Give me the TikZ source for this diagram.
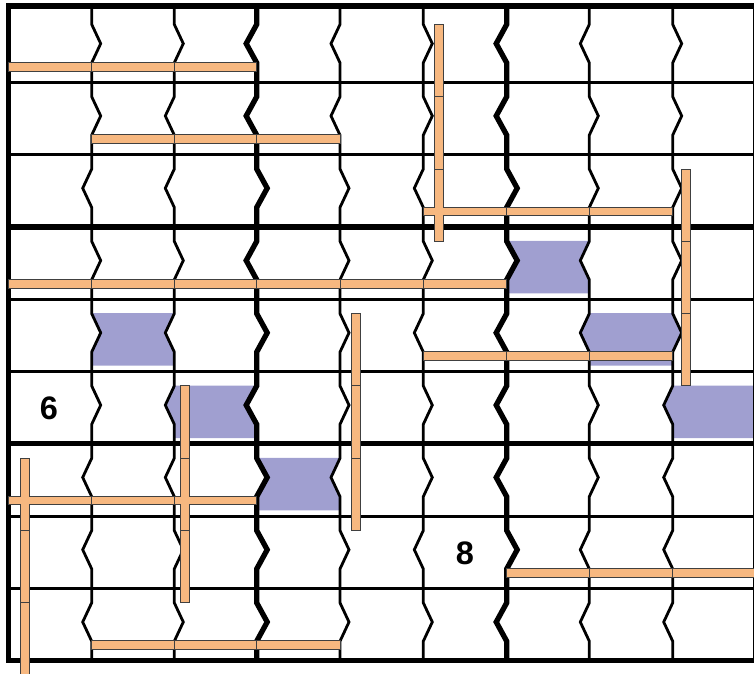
\documentclass[tikz,border=0pt]{standalone}
\usepackage{fontspec}
\setmainfont{Liberation Sans}
\definecolor{barfill}{HTML}{F7B880}
\definecolor{barline}{HTML}{404040}
\definecolor{cellfill}{HTML}{A09FD0}
\begin{document}
\begin{tikzpicture}[x=1pt,y=-1pt,
  barseg/.style={fill=barfill, draw=barline, line width=0.9pt},
  barpatch/.style={fill=barfill},
  shadecell/.style={fill=cellfill},
  gridline/.style={line width=2.8pt},
  boxline/.style={line width=5.3pt},
  digit/.style={font=\fontsize{32.5}{33}\selectfont\bfseries, inner sep=0pt}]
\useasboundingbox (0,0) rectangle (754,673);
\def\colx{{8.3,91.7,174.3,256.7,340,423.3,506.7,589.3,672.7,756}}
% shaded cells
\foreach \r/\xl/\xr/\dl/\dr in {3/506.7/589.3/10.5/-9, 4/91.7/174.3/9/-9, 4/589.3/672.7/-9/9, 5/174.3/256.7/-9/-10.5, 5/672.7/760/-9/0, 6/256.7/340/10.5/-9}{
  \pgfmathsetmacro\t{10+72.3*\r}
  \fill[shadecell] (\xl,{\t+14}) -- ({\xl+\dl},{\t+33.6}) -- (\xl,{\t+52.8}) -- (\xl,{\t+66.5})
     -- (\xr,{\t+66.5}) -- (\xr,{\t+52.8}) -- ({\xr+\dr},{\t+33.6}) -- (\xr,{\t+14}) -- cycle;
}
% horizontal grid lines
\foreach \r in {1,2,4,5,7,8}{
  \draw[gridline] (8.3,{10+72.3*\r}) -- (756,{10+72.3*\r});
}
\foreach \r in {3,6}{
  \draw[boxline] (8.3,{10+72.3*\r}) -- (756,{10+72.3*\r});
}
% vertical zigzag lines
\foreach \xx/\lw/\amp/\dirs in {
  91.7/2.8/9/{1,1,-1,1,1,1,-1,-1,-1},
  174.3/2.8/9/{1,-1,-1,1,-1,-1,-1,1,1},
  256.7/5.3/10.5/{-1,-1,1,-1,1,-1,1,1,1},
  340/2.8/9/{-1,-1,1,1,1,1,-1,1,1},
  423.3/2.8/9/{1,1,-1,1,-1,1,1,-1,1},
  506.7/5.3/10.5/{-1,-1,1,1,-1,-1,-1,1,-1},
  589.3/2.8/9/{-1,1,1,-1,-1,1,1,-1,-1},
  672.7/2.8/9/{1,1,1,1,1,-1,-1,-1,-1}}{
  \draw[line width=\lw pt, line join=miter] (\xx,6)
    \foreach \d [count=\rr] in \dirs {
      -- (\xx,{10+72.3*(\rr-1)+14.4})
      -- ({\xx+\d*\amp},{10+72.3*(\rr-1)+33.6})
      -- (\xx,{10+72.3*(\rr-1)+52.8})
    } -- (\xx,660.7);
}
% frame
\draw[boxline] (8.3,6) rectangle (756,660.7);
% horizontal bars
\foreach \r/\ca/\cb in {0/0/2, 1/1/3, 2/5/7, 3/0/5, 4/5/7, 6/0/2, 7/6/8, 8/1/3}{
  \foreach \c in {\ca,...,\cb}{
    \pgfmathsetmacro\xa{\colx[\c]}
    \pgfmathsetmacro\xb{\colx[\c+1]}
    \pgfmathsetmacro\yy{10+72.3*\r+52.4}
    \draw[barseg] (\xa,\yy) rectangle (\xb,{\yy+8.7});
  }
}
% vertical bars
\foreach \xc/\ra/\rb in {25/6/8, 184.7/5/7, 355.6/4/6, 438.8/0/2, 686.2/2/4}{
  \foreach \r in {\ra,...,\rb}{
    \pgfmathsetmacro\ya{10+72.3*\r+14.4}
    \draw[barseg] ({\xc-4.5},\ya) rectangle ({\xc+4.5},{\ya+72.3});
  }
}
% merge crossings
\foreach \xc/\r in {438.8/2, 184.7/6, 25/6}{
  \pgfmathsetmacro\yh{10+72.3*\r+52.4}
  \fill[barpatch] ({\xc-4},{\yh-0.6}) rectangle ({\xc+4},{\yh+9.3});
  \fill[barpatch] ({\xc-5.1},{\yh+0.5}) rectangle ({\xc+5.1},{\yh+8.2});
}
% digits
\node[digit] (six) at (49,408.3) {6};
\node[digit] (eight) at (465,553.3) {8};
\end{tikzpicture}
\end{document}
